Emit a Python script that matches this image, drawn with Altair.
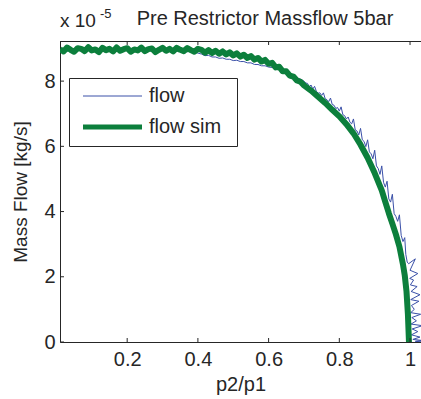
import altair as alt
import pandas as pd

# ---------------- data (values in units of 1e-5 kg/s) ----------------
SERIES = ["flow", "flow sim"]
COLORS = ["#3a50a8", "#0c7f3c"]
WIDTHS = [1.0, 6.0]

GREEN_X = [0.01, 0.02, 0.03, 0.04, 0.05, 0.06, 0.07, 0.08, 0.09, 0.10,
           0.11, 0.12, 0.13, 0.14, 0.15, 0.16, 0.17, 0.18, 0.19, 0.20,
           0.21, 0.22, 0.23, 0.24, 0.25, 0.26, 0.27, 0.28, 0.29, 0.30,
           0.31, 0.32, 0.33, 0.34, 0.35, 0.36, 0.37, 0.38, 0.39, 0.40,
           0.41, 0.42, 0.43, 0.44, 0.45, 0.46, 0.47, 0.48, 0.49, 0.50,
           0.51, 0.52, 0.53, 0.54, 0.55, 0.56, 0.57, 0.58, 0.59, 0.60,
           0.61, 0.62, 0.63, 0.64, 0.65, 0.66, 0.67, 0.68, 0.69, 0.70,
           0.72, 0.74, 0.76, 0.78, 0.80, 0.82, 0.84, 0.86, 0.88, 0.90,
           0.92, 0.93, 0.94, 0.95, 0.96, 0.97, 0.98, 0.985, 0.99, 0.994, 0.997]
GREEN_Y = [8.98, 8.91, 9.03, 8.96, 8.90, 9.01, 8.99, 8.92, 9.04, 8.94,
           8.97, 8.89, 9.02, 8.95, 8.99, 8.91, 9.03, 8.93, 8.98, 9.01,
           8.90, 8.97, 8.94, 9.03, 8.92, 8.98, 9.00, 8.89, 8.96, 9.02,
           8.93, 8.99, 8.91, 9.02, 8.96, 8.92, 9.01, 8.95, 8.90, 8.99,
           8.96, 8.87, 8.95, 8.86, 8.93, 8.84, 8.91, 8.82, 8.88, 8.79,
           8.85, 8.75, 8.81, 8.71, 8.77, 8.66, 8.71, 8.60, 8.65, 8.53,
           8.56, 8.42, 8.44, 8.30, 8.30, 8.17, 8.14, 8.02, 7.98, 7.87,
           7.71, 7.52, 7.33, 7.12, 6.92, 6.68, 6.40, 6.05, 5.65, 5.18,
           4.65, 4.30, 3.95, 3.63, 3.30, 2.92, 2.38, 2.05, 1.55, 0.85, 0.00]

BLUE_X = [0.01, 0.02, 0.03, 0.04, 0.05, 0.06, 0.07, 0.08, 0.09, 0.10,
          0.11, 0.12, 0.13, 0.14, 0.15, 0.16, 0.17, 0.18, 0.19, 0.20,
          0.21, 0.22, 0.23, 0.24, 0.25, 0.26, 0.27, 0.28, 0.29, 0.30,
          0.31, 0.32, 0.33, 0.34, 0.35, 0.36, 0.37, 0.38, 0.39, 0.40,
          0.41, 0.42, 0.43, 0.44, 0.45, 0.46, 0.47, 0.48, 0.49, 0.50,
          0.51, 0.52, 0.53, 0.54, 0.55, 0.56, 0.57, 0.58, 0.59, 0.60,
          0.61, 0.62, 0.63, 0.64, 0.65, 0.66, 0.67, 0.68, 0.69, 0.70,
          0.705, 0.71, 0.715, 0.72, 0.725, 0.73, 0.735, 0.74, 0.745, 0.75,
          0.755, 0.76, 0.765, 0.77, 0.775, 0.78, 0.785, 0.79, 0.795, 0.80,
          0.805, 0.81, 0.815, 0.82, 0.825, 0.83, 0.835, 0.84, 0.845, 0.85,
          0.855, 0.86, 0.865, 0.87, 0.875, 0.88, 0.885, 0.89, 0.895, 0.90,
          0.905, 0.91, 0.915, 0.92, 0.925, 0.93, 0.935, 0.94, 0.945, 0.95,
          0.955, 0.96, 0.965, 0.97, 0.975, 0.98, 0.985, 0.988, 0.992,
          0.996, 1.015, 1.000, 1.022, 0.999, 1.010, 1.001, 1.020, 1.003, 1.028,
          1.002, 1.025, 1.004, 1.012, 1.002, 1.030, 1.005, 1.018, 1.003, 1.035,
          1.006, 1.022, 1.004, 1.028, 1.008, 1.032, 1.015, 1.040]
BLUE_Y = [8.93, 9.00, 8.91, 8.97, 8.94, 9.01, 8.90, 8.96, 8.99, 8.92,
          8.97, 8.93, 9.00, 8.95, 8.91, 8.98, 8.94, 9.00, 8.92, 8.96,
          8.99, 8.91, 8.95, 8.98, 8.93, 8.97, 8.90, 8.96, 8.93, 8.99,
          8.92, 8.95, 8.97, 8.91, 8.94, 8.96, 8.90, 8.93, 8.89, 8.86,
          8.83, 8.78, 8.79, 8.74, 8.74, 8.70, 8.71, 8.67, 8.67, 8.63,
          8.64, 8.60, 8.60, 8.56, 8.56, 8.51, 8.51, 8.47, 8.47, 8.43,
          8.42, 8.36, 8.35, 8.29, 8.26, 8.19, 8.17, 8.10, 8.06, 8.00,
          7.94, 7.93, 7.83, 7.88, 7.76, 7.84, 7.69, 7.63, 7.64, 7.56,
          7.64, 7.46, 7.43, 7.37, 7.48, 7.28, 7.26, 7.16, 7.19, 7.08,
          7.21, 6.97, 6.94, 6.84, 6.90, 6.74, 6.69, 6.84, 6.50, 6.47,
          6.35, 6.55, 6.20, 6.15, 5.99, 6.20, 5.83, 5.77, 5.62, 5.88,
          5.40, 5.32, 5.14, 5.40, 4.90, 4.75, 4.93, 4.39, 4.29, 4.53,
          3.94, 3.85, 3.70, 3.90, 3.27, 3.08, 3.20, 2.69, 2.45,
          2.40, 2.55, 2.20, 2.10, 1.95, 1.90, 1.75, 1.70, 1.55, 1.45,
          1.30, 1.25, 1.12, 1.00, 0.90, 0.85, 0.75, 0.65, 0.55, 0.50,
          0.40, 0.32, 0.22, 0.15, 0.08, 0.05, 0.02, 0.00]

X_TICKS = [0.2, 0.4, 0.6, 0.8, 1.0]
Y_TICKS = [0, 2, 4, 6, 8]
X_DOMAIN = [0.01, 1.031]
Y_DOMAIN = [0, 9.23]

TITLE = "Pre Restrictor Massflow 5bar"
X_TITLE = "p2/p1"
Y_TITLE = "Mass Flow [kg/s]"
EXP_BASE = "x 10"
EXP_POWER = "-5"

# ---------------- build ----------------
FONT = "Liberation Sans"
AX = "#262626"
W, H = 361, 301

blue = pd.DataFrame({"x": BLUE_X, "y": BLUE_Y, "series": SERIES[0]})
blue["i"] = range(len(blue))
green = pd.DataFrame({"x": GREEN_X, "y": GREEN_Y, "series": SERIES[1]})
green["i"] = range(len(green))
df = pd.concat([blue, green], ignore_index=True)

xscale = alt.Scale(domain=X_DOMAIN, nice=False, zero=False)
yscale = alt.Scale(domain=Y_DOMAIN, nice=False, zero=False)
xaxis = alt.Axis(values=X_TICKS, format="~g", ticks=False, tickSize=0,
                 labelPadding=7, titlePadding=5, grid=False)
yaxis = alt.Axis(values=Y_TICKS, format="d", ticks=False, tickSize=0,
                 labelPadding=5, titlePadding=13, titleFontSize=19, grid=False)

lines = alt.Chart(df).mark_line(clip=True, strokeJoin="round").encode(
    x=alt.X("x:Q", scale=xscale, title=X_TITLE, axis=xaxis),
    y=alt.Y("y:Q", scale=yscale, title=Y_TITLE, axis=yaxis),
    color=alt.Color("series:N", scale=alt.Scale(domain=SERIES, range=COLORS), legend=None),
    strokeWidth=alt.StrokeWidth("series:N", scale=alt.Scale(domain=SERIES, range=WIDTHS), legend=None),
    order="i:Q",
)

xt = pd.DataFrame({"x": X_TICKS})
yt = pd.DataFrame({"y": Y_TICKS})
one = pd.DataFrame({"k": [0]})

xt_bottom = alt.Chart(xt).mark_rule(color=AX, strokeWidth=1).encode(
    x=alt.X("x:Q", scale=xscale, title=X_TITLE, axis=xaxis), y=alt.value(H), y2=alt.value(H - 4))
xt_top = alt.Chart(xt).mark_rule(color=AX, strokeWidth=1).encode(
    x=alt.X("x:Q", scale=xscale, title=X_TITLE, axis=xaxis), y=alt.value(0), y2=alt.value(4))
yt_left = alt.Chart(yt).mark_rule(color=AX, strokeWidth=1).encode(
    y=alt.Y("y:Q", scale=yscale, title=Y_TITLE, axis=yaxis), x=alt.value(0), x2=alt.value(4))
top_border = alt.Chart(one).mark_rule(color=AX, strokeWidth=1).encode(
    x=alt.value(0), x2=alt.value(W), y=alt.value(0.5))

# legend box
leg_box = alt.Chart(one).mark_rect(fill="white", stroke=AX, strokeWidth=1).encode(
    x=alt.value(9.5), x2=alt.value(177.5), y=alt.value(37.5), y2=alt.value(105.5))
leg_lines = []
leg_texts = []
for s, c, w, yy in zip(SERIES, COLORS, [1.0, 5.0], [55, 86]):
    d = pd.DataFrame({"label": [s]})
    leg_lines.append(alt.Chart(d).mark_rule(color=c, strokeWidth=w).encode(
        x=alt.value(23), x2=alt.value(82), y=alt.value(yy)))
    leg_texts.append(alt.Chart(d).mark_text(align="left", baseline="middle", font=FONT,
                                            fontSize=20, color=AX).encode(
        text="label:N", x=alt.value(89), y=alt.value(yy)))

title_t = alt.Chart(pd.DataFrame({"t": [TITLE]})).mark_text(
    align="center", baseline="alphabetic", font=FONT, fontSize=20, color=AX).encode(
    text="t:N", x=alt.value(205), y=alt.value(-16))
exp_base = alt.Chart(pd.DataFrame({"t": [EXP_BASE]})).mark_text(
    align="left", baseline="alphabetic", font=FONT, fontSize=19, color=AX).encode(
    text="t:N", x=alt.value(0), y=alt.value(-14))
exp_pow = alt.Chart(pd.DataFrame({"t": [EXP_POWER]})).mark_text(
    align="left", baseline="alphabetic", font=FONT, fontSize=13, color=AX).encode(
    text="t:N", x=alt.value(40), y=alt.value(-23))

chart = alt.layer(
    lines, xt_bottom, xt_top, yt_left, top_border,
    leg_box, *leg_lines, *leg_texts,
    title_t, exp_base, exp_pow,
).properties(
    width=W, height=H,
    padding={"left": 60, "top": 41, "right": 0, "bottom": 57},
    autosize=alt.AutoSizeParams(type="none"),
    background="white",
).configure_view(stroke=None).configure_axis(
    labelFont=FONT, titleFont=FONT, labelFontSize=20, titleFontSize=20,
    titleFontWeight="normal", labelColor=AX, titleColor=AX,
    domainColor=AX, domainWidth=1,
)

chart.save("out.html", embed_options={"renderer": "svg", "actions": False})
